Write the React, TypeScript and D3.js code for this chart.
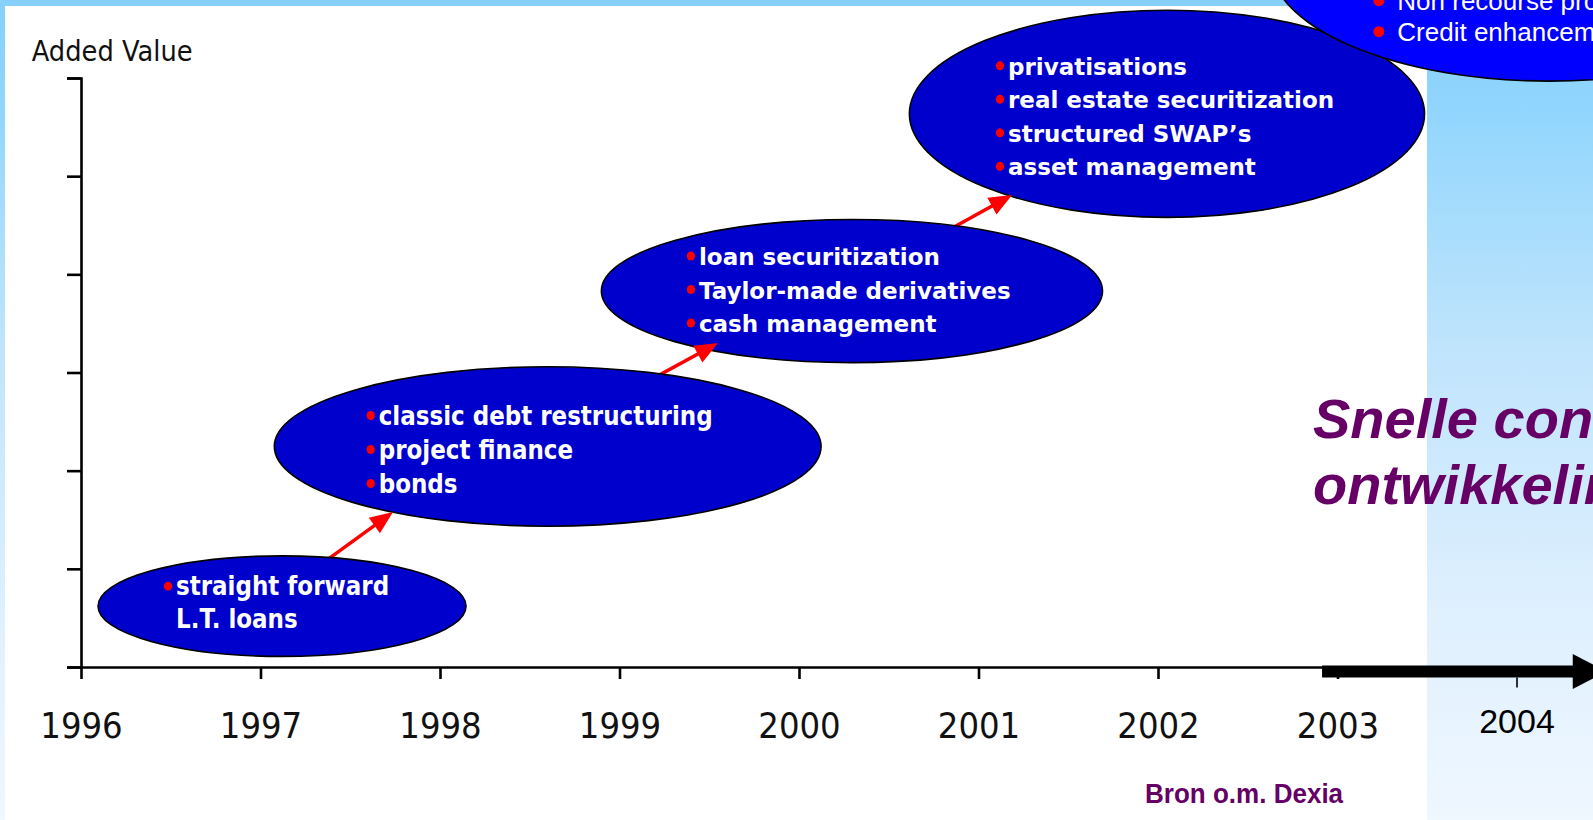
import React, { useEffect, useRef } from 'react';
import * as d3 from 'd3';

const W = 1593;
const H = 820;

// axis values
const years = [1996, 1997, 1998, 1999, 2000, 2001, 2002, 2003];
const extraYear = 2004;
const valueTicks = [0, 1, 2, 3, 4, 5, 6];

// stages, centre in (year, added value), half-width in years / value units
const stageYear = [1997.12, 1998.6, 2000.295, 2002.05, 2004.18];
const stageValue = [0.62, 2.246, 3.83, 5.635, 7.19];
const stageSpanYears = [1.025, 1.523, 1.396, 1.435, 1.56];
const stageSpanValue = [0.512, 0.812, 0.729, 1.055, 1.222];
const stageItems = [
  ['straight forward', 'L.T. loans'],
  ['classic debt restructuring', 'project finance', 'bonds'],
  ['loan securitization', 'Taylor-made derivatives', 'cash management'],
  ['privatisations', 'real estate securitization', 'structured SWAP\u2019s', 'asset management'],
  ['Non recourse project finance', 'Credit enhancement'],
];
const stageBulleted = [
  [1, 0],
  [1, 1, 1],
  [1, 1, 1],
  [1, 1, 1, 1],
  [1, 1],
];

// red arrows between stages (year, value)
const arrowFromYear = [1997.393, 1999.253, 2000.975];
const arrowFromValue = [1.12, 3.005, 4.594];
const arrowToYear = [1997.738, 1999.549, 2001.187];
const arrowToValue = [1.579, 3.3, 4.808];

// the thick time arrow at the end of the x axis
const timeArrowFrom = 2002.914;
const timeArrowTo = 2004.5;

const App = () => {
  const svgRef = useRef(null);

  useEffect(() => {
    const svg = d3.select(svgRef.current);
    svg.selectAll('*').remove();

    const x = d3.scaleLinear().domain([1996, 2004]).range([81, 1517]);
    const y = d3.scaleLinear().domain([0, 6]).range([667, 78]);

    // background
    const defs = svg.append('defs');
    const grad = defs.append('linearGradient')
      .attr('id', 'bg')
      .attr('x1', 0).attr('y1', 0).attr('x2', 0).attr('y2', 1);
    [[0, '#86d0fb'], [0.12, '#8fd5fd'], [0.42, '#bfe4fc'], [0.75, '#dff0fe'], [1, '#eff7ff']]
      .forEach(([o, c]) => grad.append('stop').attr('offset', o).attr('stop-color', c));

    svg.append('rect').attr('width', W).attr('height', H).attr('fill', 'url(#bg)');
    svg.append('rect')
      .attr('x', 5).attr('y', 6)
      .attr('width', 1427 - 5).attr('height', H - 6)
      .attr('fill', '#ffffff');

    // axes
    const yAxis = svg.append('g')
      .attr('transform', `translate(${x(1996)},0)`)
      .call(d3.axisLeft(y).tickValues(valueTicks).tickSize(14).tickSizeOuter(14).tickFormat(() => ''));
    yAxis.selectAll('path, line').attr('stroke', '#000').attr('stroke-width', 2.6);

    const xAxis = svg.append('g')
      .attr('transform', `translate(0,${y(0)})`)
      .call(d3.axisBottom(x).tickValues(years).tickSize(12).tickSizeOuter(0).tickFormat(d3.format('d')));
    xAxis.selectAll('path, line').attr('stroke', '#000').attr('stroke-width', 2.6);
    xAxis.selectAll('text')
      .attr('y', 71)
      .attr('dy', 0)
      .attr('fill', '#111')
      .attr('transform', 'scale(0.9,1)')
      .style('font-family', "'DejaVu Sans', Verdana, sans-serif")
      .style('font-size', '36px');

    svg.append('text')
      .attr('transform', 'translate(31.7,60.7) scale(0.92,1)')
      .attr('fill', '#111')
      .style('font-family', "'DejaVu Sans', Verdana, sans-serif")
      .style('font-size', '28px')
      .text('Added Value');

    // arrow lines go under the ellipses
    const arrows = arrowFromYear.map((fy, i) => {
      const x0 = x(fy), y0 = y(arrowFromValue[i]);
      const x1 = x(arrowToYear[i]), y1 = y(arrowToValue[i]);
      const len = Math.hypot(x1 - x0, y1 - y0);
      return { x0, y0, x1, y1, ux: (x1 - x0) / len, uy: (y1 - y0) / len };
    });
    svg.selectAll('.arrowLine')
      .data(arrows)
      .enter().append('line')
      .attr('class', 'arrowLine')
      .attr('x1', d => d.x0 - d.ux * 30)
      .attr('y1', d => d.y0 - d.uy * 30)
      .attr('x2', d => d.x1 - d.ux * 12)
      .attr('y2', d => d.y1 - d.uy * 12)
      .attr('stroke', '#ff0000')
      .attr('stroke-width', 3.5);

    // stages
    const fontSize = [26, 26, 23, 23, 26];
    const squeeze = [0.885, 0.885, 1, 1, 1];
    const textDx = [-106, -169, -153, -159, -152];
    const firstBase = [-11, -22, -26, -39, 49];
    const lineGap = [33, 34, 33.5, 33.5, 31];
    const bulletDx = [-8, -8, -8, -8, -18.5];
    const bulletR = [4.5, 4.5, 4.5, 4.5, 5.5];

    stageYear.forEach((sy, i) => {
      const cx = x(sy);
      const cy = y(stageValue[i]);
      const rx = x(sy + stageSpanYears[i]) - cx;
      const ry = cy - y(stageValue[i] + stageSpanValue[i]);

      const g = svg.append('g');
      g.append('ellipse')
        .attr('cx', cx).attr('cy', cy)
        .attr('rx', rx).attr('ry', ry)
        .attr('fill', i === 4 ? '#0000ff' : '#0000cc')
        .attr('stroke', '#000')
        .attr('stroke-width', 1.6);

      stageItems[i].forEach((item, j) => {
        const tx = cx + textDx[i];
        const ty = cy + firstBase[i] + j * lineGap[i];
        if (stageBulleted[i][j]) {
          g.append('ellipse')
            .attr('cx', tx + bulletDx[i])
            .attr('cy', ty - (i === 4 ? 9.5 : 9))
            .attr('rx', bulletR[i] - (i === 4 ? 0 : 0.4))
            .attr('ry', bulletR[i])
            .attr('fill', '#ff0000');
        }
        g.append('text')
          .attr('transform', `translate(${tx},${ty}) scale(${squeeze[i]},1)`)
          .attr('fill', '#ffffff')
          .style('font-family', i === 4 ? "'Liberation Sans', Arial, sans-serif" : "'DejaVu Sans', Verdana, sans-serif")
          .style('font-weight', i === 4 ? 'normal' : 'bold')
          .style('font-size', `${fontSize[i]}px`)
          .text(item);
      });
    });

    // arrow heads on top
    svg.selectAll('.arrowHead')
      .data(arrows)
      .enter().append('path')
      .attr('class', 'arrowHead')
      .attr('d', d => {
        const L = 23, hw = 9.5;
        const bx = d.x1 - d.ux * L, by = d.y1 - d.uy * L;
        const px = -d.uy, py = d.ux;
        return `M${d.x1},${d.y1}L${bx + px * hw},${by + py * hw}L${bx - px * hw},${by - py * hw}Z`;
      })
      .attr('fill', '#ff0000');

    // thick time arrow
    const ax0 = x(timeArrowFrom);
    const ax1 = x(timeArrowTo);
    const ay = y(0) + 4.5;
    svg.append('rect')
      .attr('x', ax0).attr('y', ay - 6)
      .attr('width', ax1 - 33 - ax0).attr('height', 12)
      .attr('fill', '#000');
    svg.append('path')
      .attr('d', `M${ax1},${ay}L${ax1 - 34},${ay - 17.5}L${ax1 - 34},${ay + 17.5}Z`)
      .attr('fill', '#000');

    svg.append('line')
      .attr('x1', x(extraYear)).attr('x2', x(extraYear))
      .attr('y1', ay + 6).attr('y2', ay + 16)
      .attr('stroke', '#000').attr('stroke-width', 1.6);
    svg.append('text')
      .attr('x', x(extraYear)).attr('y', 733)
      .attr('text-anchor', 'middle')
      .attr('fill', '#000')
      .style('font-family', "'Liberation Sans', Arial, sans-serif")
      .style('font-size', '34px')
      .text(String(extraYear));

    // purple annotations
    const purple = '#660066';
    const title = svg.append('text')
      .attr('fill', purple)
      .style('font-family', "'Liberation Sans', Arial, sans-serif")
      .style('font-weight', 'bold')
      .style('font-style', 'italic')
      .style('font-size', '56px');
    title.append('tspan').attr('x', 1313).attr('y', 438).text('Snelle concept');
    title.append('tspan').attr('x', 1313).attr('y', 504).text('ontwikkeling');

    svg.append('text')
      .attr('transform', 'translate(1145,803) scale(0.93,1)')
      .attr('fill', purple)
      .style('font-family', "'Liberation Sans', Arial, sans-serif")
      .style('font-weight', 'bold')
      .style('font-size', '28px')
      .text('Bron o.m. Dexia');
  }, []);

  return (
    <svg
      ref={svgRef}
      width={W}
      height={H}
      style={{ position: 'absolute', left: 0, top: 0, display: 'block' }}
    />
  );
};

export default App;
